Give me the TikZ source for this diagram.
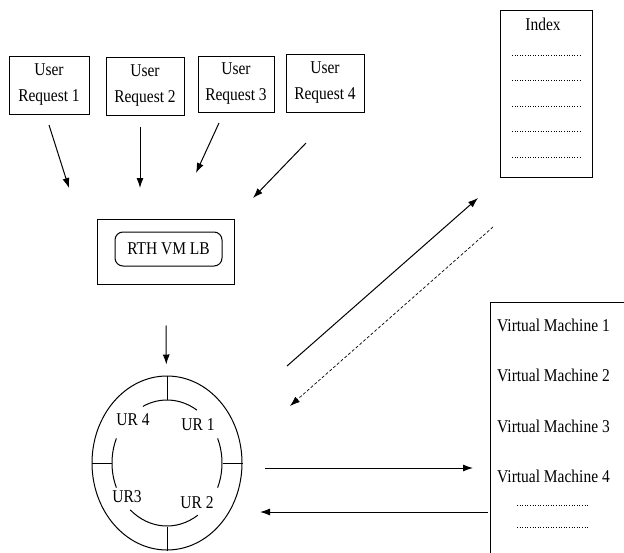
\documentclass[tikz,border=0pt]{standalone}
\usepackage{fontspec}
\setmainfont[FakeStretch = 0.86]{Liberation Serif}
\usetikzlibrary{shapes.geometric, arrows.meta}
\tikzstyle{req} = [rectangle, draw = black, line width = 1pt, align = center, inner sep = 0pt, font = \fontsize{18}{26}\selectfont]
\tikzstyle{box} = [rectangle, draw = black, line width = 1pt, inner sep = 0pt]
\tikzstyle{txt} = [inner sep = 0pt, font = \fontsize{18}{20}\selectfont]
\tikzstyle{arrow} = [line width = 1pt, -{Latex[length = 10pt, width = 7pt]}]
\tikzstyle{dots} = [line width = 1pt, dash pattern = on 1pt off 1.6pt]

\begin{document}
\begin{tikzpicture}[x = 1pt, y = -1pt]
	\useasboundingbox (0,0) rectangle (624,552);

	% user requests
	\node (req1)[req, minimum width = 80pt, minimum height = 58pt] at (49,85) {User\\Request 1};
	\node (req2)[req, minimum width = 78pt, minimum height = 58pt] at (145,86) {User\\Request 2};
	\node (req3)[req, minimum width = 76pt, minimum height = 56pt] at (236,84) {User\\Request 3};
	\node (req4)[req, minimum width = 78pt, minimum height = 58pt] at (325,83) {User\\Request 4};

	% load balancer
	\node (rth)[box, minimum width = 137pt, minimum height = 65pt] at (165.5,251.5) {};
	\node (lb)[box, txt, rounded corners = 8pt, minimum width = 107pt, minimum height = 34pt] at (168.5,249) {RTH VM LB};

	% ring of user requests
	\node (ring)[ellipse, draw = black, line width = 1pt, inner sep = 0pt, minimum width = 150pt, minimum height = 174pt] at (167,463) {};
	\foreach \a/\b in {-23/23, 56/132, 157/203, 244/303}
		\draw [line width = 1pt] (ring.center) ++(\a:55 and 63) arc [start angle = \a, end angle = \b, x radius = 55, y radius = 63];
	\draw [line width = 1pt] (ring.north) -- ++(0,24);
	\draw [line width = 1pt] (ring.south) -- ++(0,-24);
	\draw [line width = 1pt] (ring.east) -- ++(-20,0);
	\draw [line width = 1pt] (ring.west) -- ++(20,0);
	\node (ur4)[txt] at (133,420) {UR 4};
	\node (ur1)[txt] at (198,425) {UR 1};
	\node (ur3)[txt] at (127,497) {UR3};
	\node (ur2)[txt] at (197,503) {UR 2};

	% index
	\node (index)[box, minimum width = 92pt, minimum height = 167pt] at (546,93.5) {};
	\node (indextitle)[txt] at (543,24) {Index};
	\foreach \y in {55,80,106,131,157}
		\draw [dots] (512,\y) -- (582,\y);

	% virtual machines
	\node (vm)[box, anchor = north west, minimum width = 160pt, minimum height = 280pt] at (490,302) {};
	\foreach \i/\y in {1/325, 2/375, 3/426, 4/476}
		\node (vm\i)[txt, anchor = west] at (497,\y) {Virtual Machine \i};
	\draw [dots] (517,505) -- (588,505);
	\draw [dots] (517,527) -- (588,527);

	% arrow ends
	\coordinate (u1a) at (49,125);
	\coordinate (u1b) at (69,188);
	\coordinate (u2a) at (140,127);
	\coordinate (u2b) at (140,188);
	\coordinate (u3a) at (219,123);
	\coordinate (u3b) at (196,173);
	\coordinate (u4a) at (306,143);
	\coordinate (u4b) at (253,198);
	\coordinate (ringup) at (287,366);
	\coordinate (idxin) at (478,198);
	\coordinate (idxout) at (493,227);
	\coordinate (ringin) at (290,406);
	\coordinate (ringright) at (265,468);
	\coordinate (vmin) at (473,468);
	\coordinate (vmout) at (488,512);
	\coordinate (ringback) at (260,512);

	\draw [arrow] (u1a) -- (u1b);
	\draw [arrow] (u2a) -- (u2b);
	\draw [arrow] (u3a) -- (u3b);
	\draw [arrow] (u4a) -- (u4b);
	\draw [arrow, shorten <= 41pt, shorten >= 11pt] (rth) -- (ring);

	\draw [arrow] (ringup) -- (idxin);
	\draw [arrow, densely dashed, line width = 0.7pt] (idxout) -- (ringin);
	\draw [arrow] (ringright) -- (vmin);
	\draw [arrow] (vmout) -- (ringback);
\end{tikzpicture}
\end{document}
